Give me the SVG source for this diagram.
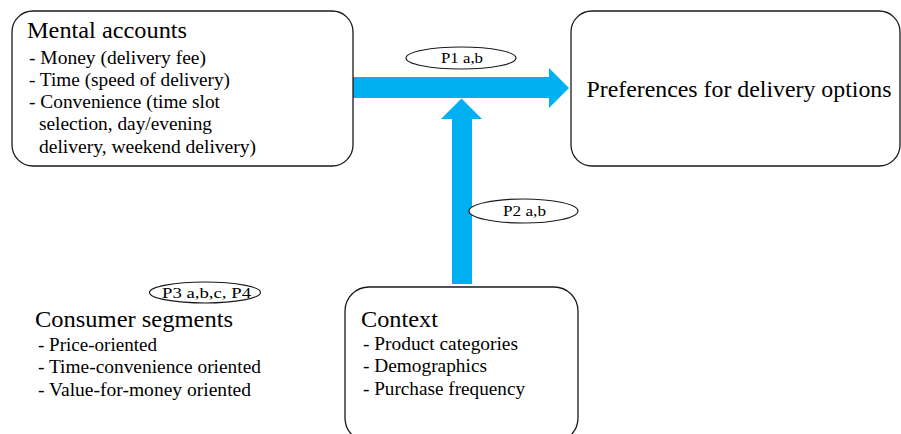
<svg xmlns="http://www.w3.org/2000/svg" width="901" height="434" viewBox="0 0 901 434">
<style>
  .box { fill: #ffffff; stroke: #1a1a1a; stroke-width: 1.3; }
  .oval { fill: #ffffff; stroke: #1a1a1a; stroke-width: 1.2; }
  .arrow { fill: #00b0f0; stroke: none; }
</style>
<rect width="901" height="434" fill="#ffffff"/>

<g id="connectors">
  <polygon class="arrow" points="353,77 549,77 549,68 569,88 549,108 549,98 353,98"/>
  <polygon class="arrow" points="452,284 452,119 441,119 461.5,98.5 482,119 472,119 472,284"/>
</g>

<g id="mental-accounts" fill="#000000">
  <rect class="box" x="12" y="11" width="341" height="155" rx="21" ry="21"/>
  <text font-family="Liberation Serif" font-size="23.5" x="27" y="38" textLength="160" lengthAdjust="spacingAndGlyphs">Mental accounts</text>
  <text font-family="Liberation Serif" font-size="18" x="29" y="64" textLength="177" lengthAdjust="spacingAndGlyphs">- Money (delivery fee)</text>
  <text font-family="Liberation Serif" font-size="18" x="29" y="86" textLength="201" lengthAdjust="spacingAndGlyphs">- Time (speed of delivery)</text>
  <text font-family="Liberation Serif" font-size="18" x="29" y="108" textLength="191" lengthAdjust="spacingAndGlyphs">- Convenience (time slot</text>
  <text font-family="Liberation Serif" font-size="18" x="39" y="130" textLength="173" lengthAdjust="spacingAndGlyphs">selection, day/evening</text>
  <text font-family="Liberation Serif" font-size="18" x="39" y="153" textLength="217" lengthAdjust="spacingAndGlyphs">delivery, weekend delivery)</text>
</g>

<g id="preferences" fill="#000000">
  <rect class="box" x="571" y="11" width="329" height="155" rx="21" ry="21"/>
  <text font-family="Liberation Serif" font-size="24" x="586.5" y="97" textLength="305" lengthAdjust="spacingAndGlyphs">Preferences for delivery options</text>
</g>

<g id="context" fill="#000000">
  <rect class="box" x="345" y="287" width="233" height="155" rx="24" ry="24"/>
  <text font-family="Liberation Serif" font-size="23.5" x="361" y="327" textLength="77" lengthAdjust="spacingAndGlyphs">Context</text>
  <text font-family="Liberation Serif" font-size="18" x="363" y="350" textLength="155" lengthAdjust="spacingAndGlyphs">- Product categories</text>
  <text font-family="Liberation Serif" font-size="18" x="363" y="372" textLength="124" lengthAdjust="spacingAndGlyphs">- Demographics</text>
  <text font-family="Liberation Serif" font-size="18" x="363" y="395" textLength="162" lengthAdjust="spacingAndGlyphs">- Purchase frequency</text>
</g>

<g id="consumer-segments" fill="#000000">
  <text font-family="Liberation Serif" font-size="23.5" x="35" y="327" textLength="198" lengthAdjust="spacingAndGlyphs">Consumer segments</text>
  <text font-family="Liberation Serif" font-size="18" x="38" y="351" textLength="119" lengthAdjust="spacingAndGlyphs">- Price-oriented</text>
  <text font-family="Liberation Serif" font-size="18" x="38" y="373" textLength="223" lengthAdjust="spacingAndGlyphs">- Time-convenience oriented</text>
  <text font-family="Liberation Serif" font-size="18" x="38" y="396" textLength="213" lengthAdjust="spacingAndGlyphs">- Value-for-money oriented</text>
</g>

<g id="label-p1" fill="#000000">
  <ellipse class="oval" cx="461" cy="58" rx="55" ry="11"/>
  <text font-family="Liberation Serif" font-size="15" x="441" y="63" textLength="42" lengthAdjust="spacingAndGlyphs">P1 a,b</text>
</g>

<g id="label-p2" fill="#000000">
  <ellipse class="oval" cx="523.5" cy="211" rx="54.5" ry="12"/>
  <text font-family="Liberation Serif" font-size="15" x="503" y="216" textLength="43" lengthAdjust="spacingAndGlyphs">P2 a,b</text>
</g>

<g id="label-p3" fill="#000000">
  <ellipse class="oval" cx="205" cy="292.5" rx="55.5" ry="10.5"/>
  <text font-family="Liberation Serif" font-size="15" x="162" y="298" textLength="89" lengthAdjust="spacingAndGlyphs">P3 a,b,c, P4</text>
</g>
</svg>
